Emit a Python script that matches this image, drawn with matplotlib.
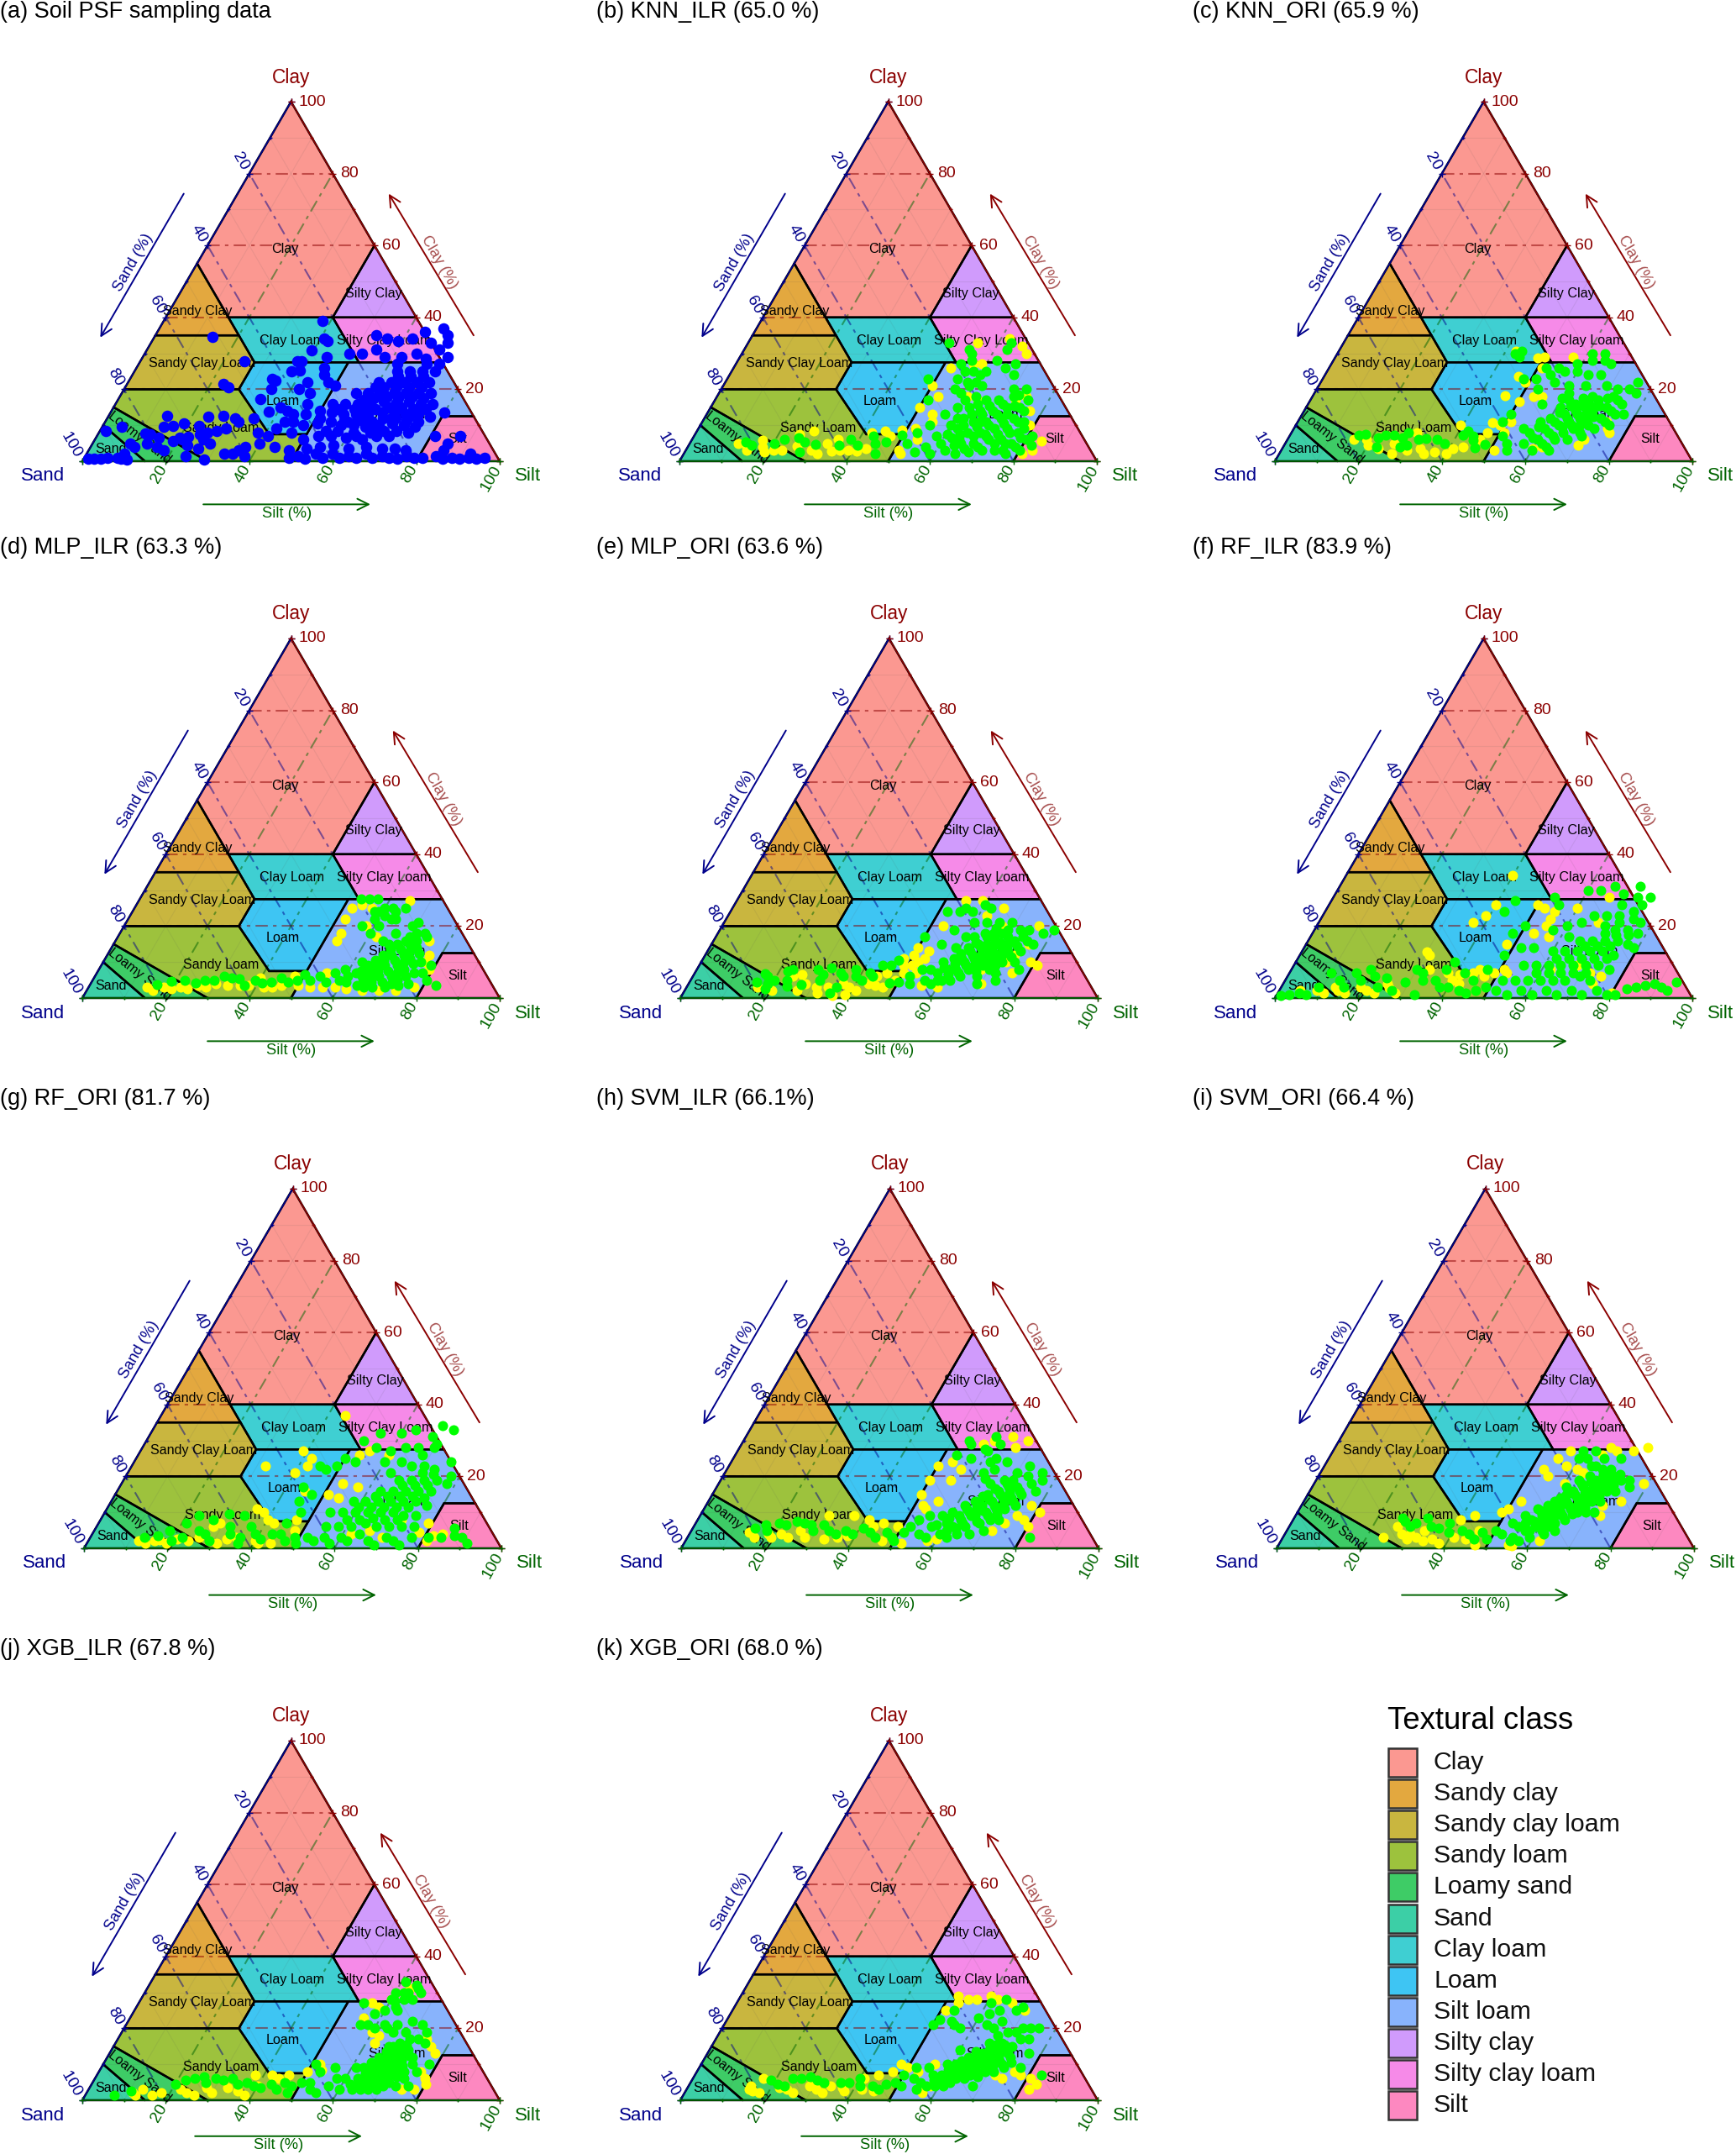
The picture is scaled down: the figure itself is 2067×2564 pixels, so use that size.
import numpy as np
import matplotlib
matplotlib.use("Agg")
import matplotlib.pyplot as plt
from matplotlib.patches import Polygon, Rectangle

plt.rcParams['font.family'] = ['Liberation Sans', 'DejaVu Sans']

# USDA class polygons as (silt, clay)
class_names = ['Clay', 'Sandy clay', 'Sandy clay loam', 'Sandy loam', 'Loamy sand', 'Sand',
               'Clay loam', 'Loam', 'Silt loam', 'Silty clay', 'Silty clay loam', 'Silt']
class_colors = ['#FB9891', '#E3A83F', '#C9B63F', '#9DC23D', '#3ECC66', '#3CCFA6',
                '#3FCFD2', '#3EC5F3', '#88B3FC', '#D09BFC', '#F68AE8', '#FD88C0']
poly_clay = [(0, 55), (15, 40), (40, 40), (40, 60), (0, 100)]
poly_sandy_clay = [(0, 35), (20, 35), (15, 40), (0, 55)]
poly_sandy_clay_loam = [(0, 20), (27.5, 20), (27.5, 27.5), (20, 35), (0, 35)]
poly_sandy_loam = [(0, 15), (0, 20), (27.5, 20), (41, 7.5), (50, 7.5), (50, 0), (30, 0)]
poly_loamy_sand = [(0, 10), (0, 15), (30, 0), (15, 0)]
poly_sand = [(0, 0), (0, 10), (15, 0)]
poly_clay_loam = [(15, 40), (40, 40), (52.5, 27.5), (27.5, 27.5), (20, 35)]
poly_loam = [(27.5, 20), (27.5, 27.5), (50, 27.5), (50, 7.5), (41, 7.5)]
poly_silt_loam = [(50, 0), (50, 27.5), (72.5, 27.5), (87.5, 12.5), (80, 12.5), (80, 0)]
poly_silty_clay = [(40, 40), (60, 40), (40, 60)]
poly_silty_clay_loam = [(40, 40), (60, 40), (72.5, 27.5), (52.5, 27.5)]
poly_silt = [(80, 0), (80, 12.5), (87.5, 12.5), (100, 0)]
class_polys = [poly_clay, poly_sandy_clay, poly_sandy_clay_loam, poly_sandy_loam, poly_loamy_sand, poly_sand,
               poly_clay_loam, poly_loam, poly_silt_loam, poly_silty_clay, poly_silty_clay_loam, poly_silt]

# label text, silt, clay
class_labels = [('Clay', 19, 59, 0), ('Silty Clay', 46.6, 46.5, 0), ('Sandy Clay', 6.9, 41.6, 0),
                ('Clay Loam', 33.5, 33.5, 0), ('Silty Clay Loam', 55.6, 33.5, 0), ('Sandy Clay Loam', 15, 27.3, 0),
                ('Loam', 39.6, 16.8, 0), ('Silt Loam', 68.9, 13, 0), ('Sandy Loam', 28.6, 9.2, 0),
                ('Loamy Sand', 10.5, 6.6, -38), ('Sand', 5.1, 3.4, 0), ('Silt', 86.7, 6.2, 0)]

panel_titles = ['(a) Soil PSF sampling data', '(b) KNN_ILR (65.0 %)', '(c) KNN_ORI (65.9 %)',
                '(d) MLP_ILR (63.3 %)', '(e) MLP_ORI (63.6 %)', '(f) RF_ILR (83.9 %)',
                '(g) RF_ORI (81.7 %)', '(h) SVM_ILR (66.1%)', '(i) SVM_ORI (66.4 %)',
                '(j) XGB_ILR (67.8 %)', '(k) XGB_ORI (68.0 %)']

sampling_blue = [(1,.7),(2.5,.6),(4,.8),(5.5,1),(8,1),(9,2),(9,.7),(10.5,.5),(1.5,8.3),(4.6,9.6),(9,5),(10.5,4),(11.3,7.6),(12.5,7.5),(13,5),(15,6.5),(16,4),(18,3),(19,5.5),(21,6),(23,4.5),(14,12.7),(14.7,9.6),(16.8,9.8),(19,10.5),(20,6.5),(22,6.8),(23,9.8),(24,12.4),(27.4,12.7),(30.6,12),(35,12),(32,11),(24.5,7.5),(26,8),(28,8.5),(30,9),(26,6),(28,5),(26,3.5),(24,1.5),(29,.5),(33,2),(37,4),(35,2),(36,3),(38,1.5),
(14,34.5),(25,27.8),(23,21.5),(24.7,20.6),(34,23),(35,22.5),(35.3,20),(34,17.2),(37.8,13.9),(37.5,25),(39.5,25.3),(37.6,27.8),(38.6,27.8),(38,39),(41,34),(42,33.5),(39.6,30.8),(44,29),(45,26),(46,24),(43,22),(48,22),(50,21),(42,20),(45,19),(40,15),(42,14),(44,13),(46,16),(38,8),(41,7),(40,5),(44,4),(42,9),(46,8),(43,11),
(49,1),(51,1.5),(53,.8),(55,2),(57,1),(59,2),(61,1),(63,1.5),(65,1),(67,2),(69,1),(71,1.5),(73,1),(75,.8),(77,1.5),(79,1),(81,1),(48,3),(52,3.5),(55,4),(58,4.5),(62,3.5),(66,4),(70,3.5),(73,3.5),(76,3),(50,6),(53,7),(56,7),(60,6.5),(64,6),(67,7),(45,11),(48,10),(51,10.5),(54,11),(57,10),(60,10),(63,9.5),(66,10),(69,10.5),(72,10),(75,9.5),(47,13),(50,14),(53,13.5),(56,13),(59,13),(62,13),(65,13.5),(68,13.5),(71,13),(74,13),(77,12.5),(80,13.5),(52,16),(55,16),(58,16),(61,16),(64,16.5),(67,16),(70,16.5),(73,16),(76,16),(56,19),(59,19),(62,19),(65,19.5),(68,19),(71,19),(74,19),(60,22),(63,22),(66,22),(69,22),(72,22),(63,25),(66,25),(69,25),(72,25),(62,27),(69,27),(72,27),(66,9),(62,7),(70,7),(58,11),(61,11.5),(64,11),(68,12),(72,11.5),(75,11),(60,14.5),(63,14.5),(66,15),(69,15),(72,14.5),(75,14.5),
(49,30),(52,30),(55,31),(58,29),(62,29),(65,30),(68,28.5),(70,31),(53,35),(56,34),(59,33.5),(62,34),(64,36),(67,33),(70,35),(68,37),(73,29),(71,33),(85,3),(84,1.5),(86,.8),(88,1),(90,.7),(92,1),(94,.8),(96,.9),(85,5),(92,2),(81,7),(87,7),
(51,12),(54,14.5),(57,11.5),(60,12),(63,11.5),(66,12),(69,12),(72,12.5),(58,14.5),(61,17.5),(64,18),(67,17.5),(70,18),(73,17.5),(59,17),(62,20.5),(65,21),(68,20.5),(71,20.5),(64,23.5),(67,23.5),(70,23.5),(65,8),(68,8.5),(71,8.5),(61,8),(57,8.5),(54,8.5),(74,8),(60,20.5)]

knn_ilr_green = [(13.3,5.3),(15,4.5),(20.3,4.9),(22.2,6.1),(25.4,6.5),(27.3,5.3),(27.4,2.6),(30.2,4.7),(36,4.5),(38,6.1),(40.4,4.5),(43,6.9),(44.5,4.9),(45.7,2.2),(46.8,5.3),(49.7,7.3),
(52,5),(53,8),(55,2.5),(55,10),(57,4),(59,2),(58,7),(60,10),(57,13),(59,15),(62,3),(62,6.5),(62,9),(62,12),(62,15),(62,18),(65,2),(65,5),(65,8),(65,11),(65,14),(65,17),(68,2.5),(68,5),(68,8),(68,11),(68,14),(68,17),(71,3),(71,6),(71,9),(71,12),(71,15),(71,18),(74,3),(74,6),(74,9),(74,12),(74,15),(77,2),(77,5),(77,8),(77,11),(80,3),(80,6),(64,6),(67,7),(63,10),(66,13),(69,10),(72,13),(70,7),(73,5),(75,8),(60,5),(78,9),(70,20),(72,18.5),(75,17),(73,20),(76,3),(82,4.5),(81,7),
(56,20),(58,22),(60,24),(58,25),(56,25),(54,27),(62,21),(61,25),(56,28),(54,31),(48,33),(55,30),(62,28),(63,31),(63,33),(67,27),(65,26),(68,24),(58,19),(51,17),(48,23),(55,23),
(60.5,7.5),(60.5,12),(63.5,4.5),(63.5,7.5),(63.5,13),(63.5,16),(66.5,3.5),(66.5,9.5),(66.5,11),(66.5,15.5),(69.5,4),(69.5,7.5),(69.5,13),(69.5,16),(72.5,7.5),(72.5,10.5),(72.5,15.5),(75.5,5),(75.5,11),(75.5,14),(78.5,4),(78.5,6.5),(60,17),(59,21),(60,22)]
knn_ilr_yellow = [(11.5,5),(14,4),(14.5,3),(17,5.8),(18,4),(19,2.5),(21,3),(23,3),(25,7.5),(26,4.2),(28,8.5),(30,3),(32,2),(33,5),(35,2.8),(35,6),(37,3),(39,3),(41,2.8),(42,8),(43,3.5),(45,8.5),(47,7),(49,8.7),(51,3),(52,2),(54,13),(55,11),(52,9),(54,6),(50,15),(53,18),(57,27),(55,33),(52,26),(59,27),(60,18),(63,17),(66,32),(68,30),(72,17),(74,18),(77,14),(79,10),(81,2),(83,3),(84,5.5),(50,21),(62,34)]

knn_ori_green = [(16.5,7.3),(18,7.5),(21.4,6.5),(23,7.3),(25,7.3),(27.3,6.5),(28,8),(28,4),(29.3,4.5),(22.3,3.9),(31.4,6),(33,6.3),(35.9,6),(38.2,4.8),(41.4,7.3),(42,8.4),(44,6.9),(44.5,5.8),(46,3.7),(48,4.7),
(51,7),(53,5),(55,9),(54,3),(57,5),(57,8),(58,11),(60,3),(60,6),(60,9),(60,12),(63,4),(63,7),(63,10),(63,13),(61,15),(65,8),(65,11),(65,14),(67,6),(67,9),(67,12),(67,15),(69,8),(69,11),(69,14),(69,17),(66,17),(72,9),(72,12),(72,15),(72,18),(75,10),(75,13),(75,16),(62,17),(64,16),(77,13),(64,3),(70,7),(60,17.5),(61,19),(56,16),(72,20),(75,20),(76,22),(77,19),(69,21),(49,11),(50,13),
(51,23),(54,24),(56,22),(53,20),(57,25),(60,25),(63,24),(65,28),(62,28),(59,27),(55,26),(66,24),(60,21),(64,21),(48,23),(61,30),(64,30),(52,26),(42.5,30),(44,30.5),(44,29),(67,27),
(58.5,6.5),(58.5,9.5),(61.5,5),(61.5,8),(61.5,11),(61.5,13.5),(64,6),(64,9.5),(64,12),(66,10),(66,13),(66,15.5),(68,10),(68,13),(68,15.5),(70,10),(70,12.5),(70,15.5),(71,17.5),(73.5,11),(73.5,14),(73.5,17),(63,15.5),(65,17.5),(67,18)]
knn_ori_yellow = [(16,6),(19,6),(20,4.5),(23,3.5),(26,5),(27,2),(30,3),(30,8),(33,3.5),(34.6,2.2),(37,2.5),(40,2.2),(39.4,10),(41,3.5),(43,4),(46,6),(47,8),(46.7,10.8),(49,10),(51,11),(51,3),(50.3,16.6),(46,18.2),(46.5,23.6),(42.4,30.5),(48.7,28.7),(50,29),(51,26),(49,22),(53,18),(55,18),(75,9.2),(76,8),(74,11),(70.3,4.5),(60,3.5),(51,8),(57,29),(71,6),(62,4)]

mlp_ilr_green = [(16,3.8),(19,4.7),(22,5),(25,4.2),(27,4.8),(29,5),(31,6),(33,5.5),(35,5.3),(37,3.5),(39,4.8),(41,4.3),(43,4.5),(45,5.5),(47,4.5),(49,5),(50,6.5),(52,5),(54,6),(56,4.5),(57,7),(59,5),(59,8),(61,4.5),(62,7),(62,10),(64,3.5),(64,6),(64,9),(66,3),(66,6),(66,9),(66,12),(68,3),(68,6),(68,9),(68,12),(68,15),(71,3),(71,6),(71,9),(71,12),(71,15),(73,5),(73,8),(73,11),(73,14),(76,4),(76,7),(76,10),(74,17),(70,17),(66,15),(64,16),(66,18),(69,20),(71,18),(70,21),(73,18),(63,22),(61,20),(59,22),(58,24),(57,20),(60,18),(62,25),(64,22),(65,25),(60,25),(57,27.5),(55,27.5),(53,27.5),(74,3.5),(78,7),(80,5),(83,3.5),(79,9),
(60.5,6),(63,7.5),(65,4.5),(65,7.5),(65,10.5),(67,4.5),(67,7.5),(67,10.5),(67,13.5),(69.5,4.5),(69.5,7.5),(69.5,10.5),(69.5,13.5),(69.5,16),(72,4),(72,7),(72,10),(72,13),(72,16),(74.5,6),(74.5,9.5),(74.5,12.5),(61,23),(63,24),(59,24)]
mlp_ilr_yellow = [(14,3),(16,2),(18,3),(20,2.5),(22,3),(24,2.5),(26,3.5),(28,3),(30,4),(33,3.5),(36,3.5),(38,3.5),(40,5.5),(42,3),(44,3),(46,3.5),(48,6),(50,3.5),(53,3),(56,3),(59,3),(62,2.5),(55,7),(53,18),(52,22),(53,16),(58,20),(62,17),(57,25),(54,26),(52,25),(66,2),(70,2),(74,2),(78,3),(77,10),(75,16),(79,8),(77,12),(65,27)]

mlp_ori_green = [(16,4.5),(17,6.8),(18,6),(19,4),(20,5),(19,2.5),(22,7.5),(23,8),(23,5),(24,3.2),(27,3.8),(29,8),(31,6.5),(32,8.5),(31,5),(35,7),(36,6),(36,3),(35,1.5),(38,8),(39,6),(41,5),(42,7),(43,6),(44,9),(46,9),(47,10.5),(48,4.2),(50,4.5),(52,6),(53,4),(54,8),(56,5),(56,8),(58,4),(58,7),(58,10),(60,5),(60,8),(60,11),(62,5),(62,8),(62,11),(62,14),(59,14),(64,6),(64,9),(64,12),(64,15),(66,9),(66,12),(66,15),(66,18),(68,6),(68,9),(68,12),(68,15),(68,18),(70,8),(70,11),(70,14),(70,17),(72,7),(72,10),(72,13),(72,16),(75,10),(75,13),(75,16),(78,18),(77,15),(80,19),(64,18),(62,17),(60,17),(60,21),(63,21),(66,21),(69,21),(56,25),(55,24),(58,24),(60,26),(62,25),(52,24),(72,19),(74,19),(56,19),(50,17),(55,15),(77,8),(73,5),(69,4),(59,5),
(59,8.5),(61,6.5),(61,9.5),(61,12.5),(63,7),(63,10),(63,13),(63,15.5),(65,8),(65,11),(65,14),(65,17),(67,7.5),(67,10.5),(67,13.5),(67,16.5),(69,9.5),(69,12.5),(69,15.5),(71,9),(71,12),(71,15),(73.5,11.5),(73.5,14.5),(73.5,17),(66,19.5),(69,19)]
mlp_ori_yellow = [(17,3),(21,2),(24,6),(26,6.5),(27,2),(28,4),(31,3),(32,1.5),(34,3),(37,4),(36,.8),(39,1),(39,3),(41,2),(43,4),(44,6),(45,3.5),(47,3),(46,7),(49,9),(50,7),(51,9),(52,10),(53,11),(53,13),(49,5),(48,11),(50,12),(53,7),(56,3.5),(60,3),(53,20),(62,23),(65,25),(67,20),(76,20),(76,15),(74,12),(76,7),(73,10),(79,10),(81,9),(70,4),(68,8),(55,27),(59,27),(50,14)]

rf_ilr_green = [(1,.8),(3,1),(5,1.5),(7,1),(9,3),(10,7),(13,5),(15,3),(16,7),(18,5),(19,8),(21,6),(23,3),(24,5.5),(27,2),(29,4.5),(30,8),(32,7),(33,5),(33,1),(36,5),(37,8),(38,3),(38,10),(40,3),(42,7),(43,2),(45,5),(45,1.5),(47,2),(47,8),(49,3),(49,12),(48,18),(43,24),(44,27),(52,2),(55,1),(58,2),(61,1),(64,2),(67,1),(70,2),(73,1),(76,2),(79,1),(81,1),(83,2.5),(85,3),(87,3.5),(89,4),(91,3),(93,2),(94,4.5),
(52,5),(55,5),(58,5),(61,5),(64,5),(67,5),(70,6),(73,5),(55,9),(58,9),(61,9),(64,9),(67,9),(70,9),(73,9),(76,8),(60,13),(63,13),(66,13),(69,13),(72,13),(75,12),(62,17),(65,16),(68,16),(71,16),(74,16),(77,15),(69,20),(72,19),(75,19),(77,21),(63,21),(60,20),(65,23),(68,23),(71,23),(74,24),(70,26),(73,28),(75,26),(53,28),(55,26),(60,30),(63,30),(66,31),(69,29),(72,31),(76,28),(79,14),(78,18),(50,20),(52,14),(55,14),(57,19),
(59,7),(62,7),(65,7),(68,7),(71,7),(62,11),(65,11),(68,11),(71,11),(74,11),(67,14.5),(70,14.5),(73,14.5),(70,18),(73,17.5),(76,17.5),(72,21),(75,22)]
rf_ilr_yellow = [(5,2),(9,2),(11,1.5),(13,3),(14,2),(16,1.5),(19,3),(21,2),(23,1.3),(25,4),(26,2.8),(28,1.5),(30,12.8),(31,12),(33,8),(38,7),(40,5),(41,6.5),(42,4),(44,7),(45,8),(47,6),(49,7),(51,8),(52,7),(40,34),(40,26),(39,23),(37,21),(48,15),(50,26),(55,24),(55,22),(57,17),(53,18),(55,20),(60,25),(66,28),(68,9),(72,7),(74,4),(80,1.5),(52,25),(67,21),(75,6),(62,8)]

rf_ori_green = [(13,3),(16,3.5),(18,5),(20,2),(21,7),(23,9),(22,3),(25,5),(27,8),(27,4),(29,2),(30,9.5),(32,6),(33,4),(34,9),(36,3),(36,1.5),(37,6),(39,4),(41,2.5),(43,4),(45,4),(45,7),(47,2),(47,10),(45,13),(47,15),(49,3),(50,1.5),(52,3),(54,2),(56,3),(58,1.5),(60,3),(62,2),(64,4),(67,2),(69,1),(71,3),(73,2),(75,1),(77,3),(55,6),(58,6),(61,6),(64,7),(67,6),(70,6),(73,6),(76,6),(54,10),(57,10),(60,10),(63,10),(66,10),(69,10),(72,9),(75,9),(58,13),(61,13),(64,13),(67,13),(70,13),(73,13),(76,12),(63,16),(66,16),(69,16),(72,16),(75,16),(66,19),(69,19),(72,19),(75,19),(78,20),(78,18),(63,21),(60,24),(64,24),(67,23),(70,23),(73,22),(60,27),(63,28),(66,28),(68,26),(56,28),(53,24),(50,25),(49,23),(45,23),(47,22),(44,17),(52,30),(55,32),(60,32),(63,33),(70,29),(72,33),(69,34),(70,28),(68,31),(76,24),(81,3),(84,3),(87,3.5),(86,5.5),(89,3),(91,1.5),
(59,8),(62,8),(65,8.5),(68,8),(71,8),(60,11.5),(63,11.5),(66,11.5),(69,11.5),(72,11.5),(62.5,14.5),(65.5,14.5),(68.5,14.5),(71.5,14.5),(74.5,14),(67.5,17.5),(70.5,17.5),(73.5,17.5),(70.5,21),(73.5,20.5)]
rf_ori_yellow = [(12,2),(14,1.5),(16,2),(17,2.3),(19,1.5),(21,2.5),(24,2),(26,3),(28,6),(29,7),(31,1.5),(33,2.5),(35,3),(36,11),(38,10),(40,2),(40,8),(41,1.5),(42,7),(44,1.5),(47,8),(48,5),(40,21),(42,23),(39,27),(42,25),(53,26),(55,27),(45,16),(53,18),(51,15),(54,14),(57,17),(62,4),(66,5),(70,3),(72,8),(78,4.5),(79,7),(81,2),(82,3.5),(84,4),(32,23),(44,37),(60,26)]

svm_ilr_green = [(15,5.5),(17,6.5),(18,5),(20,7),(22,6.5),(24,7.5),(26,7),(28,6.5),(29,5),(31,6.5),(33,5),(35,4),(37,5),(39,4),(41,5.5),(43,4.5),(45,3),(47,4.5),(49,3),(50,2),(51,4.5),(52,6),(53,8),(55,4),(55,9),(57,6),(58,9),(57,3),(60,4),(60,7),(60,10),(62,3),(62,6),(62,9),(62,12),(64,4),(64,7),(64,10),(64,13),(66,9),(66,12),(66,15),(68,7),(68,10),(68,13),(68,16),(70,5),(70,8),(70,11),(70,14),(70,17),(72,8),(72,11),(72,14),(72,17),(74,12),(74,15),(67,4),(75,18),(77,16),(77,19),(73,20),(76,21),(65,18),(68,19),(70,21),(72,23),(62,21),(64,22),(66,24),(63,25),(60,27),(62,29),(59,27.5),(55,29),(57,25),(53,26),(54,30),(60,31),(82,3),
(58,6.5),(60,8.5),(61,5),(63,5.5),(63,8),(63,11),(65,6),(65,9),(65,11.5),(65,14.5),(67,7.5),(67,10.5),(67,13.5),(67,16.5),(69,9),(69,12),(69,15),(69,18),(71,9.5),(71,12.5),(71,15.5),(73,13),(73,16),(70,19),(63,19.5),(62,24)]
svm_ilr_yellow = [(14,4.5),(16,3),(19,4),(20,3),(22,4),(24,3),(26,5),(28,3),(31,9),(33,2.5),(36,3),(38,3.5),(37,9),(41,8),(43,6),(45,7),(47,2),(49,6),(52,1.5),(53,11),(52,12),(50,15),(50,19),(55,13),(56,22),(53,24),(55,19),(50,23),(58,29),(60,30),(64,31),(68,30),(66,28),(72,5),(74,7),(76,9),(78,8),(80,6),(81,10),(78,12),(58,2),(60,2.5)]

svm_ori_green = [(26,8.5),(27,7.5),(29,6),(30,7),(32,8.5),(34,6),(36,5.5),(38,7),(39,4.5),(42,5),(44,4),(46,2.5),(47,4.5),(49,2.5),(50,5),(52,4),(53,7),(55,3),(55,6),(55,9),(57,2),(57,5),(57,8),(57,11),(59,3),(59,6),(59,9),(59,12),(61,5),(61,8),(61,11),(61,14),(63,7),(63,10),(63,13),(63,16),(65,8),(65,11),(65,14),(65,17),(67,10),(67,13),(67,16),(67,19),(69,10),(69,13),(69,16),(69,19),(71,13),(71,16),(71,19),(73,16),(73,19),(75,19),(61,17),(63,19),(65,20),(67,22),(69,22),(64,23),(66,25),(62,25),(60,27),(63,27),(60,25),(70,25),(58,5),(62,4),(64,5),(76,17),(55,2),(71,10),
(56,7),(58,7.5),(58,10.5),(60,7),(60,10),(60,13),(62,6),(62,9),(62,12),(62,15),(64,9),(64,12),(64,15),(64,18),(66,9.5),(66,12.5),(66,15.5),(66,18.5),(68,11.5),(68,14.5),(68,17.5),(68,20.5),(70,14.5),(70,17.5),(70,20.5),(72,17.5),(72,20.5),(65,23)]
svm_ori_yellow = [(24,3),(26,6),(28,4),(30,2.5),(30,4),(32,3),(34,2),(33,5),(36,2.5),(38,1.5),(40,8),(41,3),(43,9),(44,2.5),(46,5),(47,1),(50,11),(49,10),(52,13),(55,1),(56,.8),(57,27),(55,25),(58,23),(61,22),(60,18),(63,21),(66,28),(72,27),(75,28),(72,12),(73,9),(79,18),(76,13),(62,2),(55,20),(53,22),(65,26),(68,27)]

xgb_ilr_green = [(7,1.3),(10.5,2.5),(20,4.5),(22,5.5),(24,6),(26,6.5),(27,5),(29,6),(31,5.5),(33,6),(35,4.5),(37,5),(39,4),(41,3.5),(43,4.5),(45,3),(46,5),(48,2),(50,5),(48,4),(52,5),(53,3),(53,8),(51,10),(55,2),(56,9),(57,4),(58,6),(60,3),(60,6),(61,9),(63,3),(63,6),(63,9),(65,3),(65,6),(65,9),(65,12),(67,3),(67,6),(67,9),(67,12),(67,15),(69,3),(69,6),(69,9),(69,12),(69,15),(71,5),(71,8),(71,11),(71,14),(73,4),(73,8),(73,12),(66,15),(68,16),(70,17),(76,8),(78,10),(74,16),(72,17),(68,19),(65,19),(63,20),(60,20),(62,21),(65,21),(68,22),(73,19),(71,21),(58,21),(58,24),(60,25),(62,26),(63,28),(65,28),(62,30),(65,31),(60,30),(61,33),(64,32),(66,30),(54,27),(76,4),(56,21),
(62,4.5),(64,4.5),(64,7.5),(64,10.5),(66,4.5),(66,7.5),(66,10.5),(66,13.5),(68,4.5),(68,7.5),(68,10.5),(68,13.5),(70,4),(70,7),(70,10),(70,13),(70,15.5),(72,6.5),(72,9.5),(72,12.5),(74,6),(74,10),(61,27.5),(63,25),(60,28),(63,30)]
xgb_ilr_yellow = [(11,2),(13,3),(12,1.5),(16,1.5),(18,2),(22,3),(24,2),(26,1.5),(28,3.5),(30,2),(33,3.5),(36,2.5),(38,1.5),(38,7),(40,4),(42,7),(44,6),(46,7),(50,8),(53,8.5),(52,10),(56,27),(58,26),(60,28),(56,23),(60,19),(62,16),(62,18),(77,8),(79,6),(80,4.5),(78,3),(75,3),(74,17),(76,15),(63,31),(78,13)]

xgb_ori_green = [(19,5.5),(21,4.5),(23,4),(24,6),(26,6),(28,6.5),(30,5.5),(32,5),(36,5),(38,5),(40,6),(41,4),(44,4),(46,3),(47,4.5),(49,5),(51,4),(50,7),(52,9),(53,6),(55,3),(55,5),(55,9),(57,4),(57,7),(59,4),(59,7),(59,10),(61,4),(61,7),(61,10),(63,6),(63,9),(63,12),(65,6),(65,9),(65,12),(67,8),(67,11),(67,14),(69,8),(69,11),(69,14),(71,8),(71,11),(71,14),(73,9),(73,12),(75,17),(73,17),(71,19),(69,19),(74,20),(72,20),(76,20),(69,16),(72,15),(66,16),(68,4),(77,13),(83,7),(77,9),(53,25),(51,22.5),(54,22),(50,21),(55,21),(57,20),(60,23),(62,24),(64,25),(63,21),(65,20),(66,22),(68,25),(69,26),(67,18),(64,28),(61,27),(60,14),
(58,5.5),(60,5.5),(60,8.5),(62,5),(62,8),(62,11),(64,7.5),(64,10.5),(64,13.5),(66,7),(66,10),(66,13),(68,6.5),(68,9.5),(68,12.5),(68,15.5),(70,9.5),(70,12.5),(70,15.5),(72,10),(72,13),(74,10.5)]
xgb_ori_yellow = [(17,6),(15,4),(15,3),(16,2.5),(18,2),(22,3.5),(24,3),(26,2),(29,4),(31,3),(33,2),(34,4),(37,3.5),(38,2.5),(41,6),(42,3),(44,7),(45,2.5),(47,8),(48,10),(50,9),(53,8),(56,10),(52,29),(51,25),(53,27),(55,28),(57,28),(60,29),(62,28),(66,27),(70,25),(72,7),(74,6),(76,8),(78,7),(83,4.5),(82,3),(81,6),(58,4),(57,2)]

panel_green = [None, knn_ilr_green, knn_ori_green, mlp_ilr_green, mlp_ori_green, rf_ilr_green, rf_ori_green,
               svm_ilr_green, svm_ori_green, xgb_ilr_green, xgb_ori_green]
panel_yellow = [None, knn_ilr_yellow, knn_ori_yellow, mlp_ilr_yellow, mlp_ori_yellow, rf_ilr_yellow, rf_ori_yellow,
                svm_ilr_yellow, svm_ori_yellow, xgb_ilr_yellow, xgb_ori_yellow]

panel_left = [98, 809, 1518, 98, 810, 1518, 100, 811, 1520, 98, 810]
panel_base = [549, 549, 549, 1188, 1188, 1188, 1843, 1843, 1843, 2500, 2500]
title_x = [0, 710, 1420, 0, 710, 1420, 0, 710, 1420, 0, 710]
title_y = [14, 14, 14, 652, 652, 652, 1308, 1308, 1308, 1963, 1963]
silt_drop = [-12, -12, -12, -12, -12, -12, -13, -13, -13, -10, -10]
arrow_shift = [0, 1, 1, 1, 1, 1, 1, 1, 1, -2, 0]

W, H = 2067, 2564
TW, TH = 497, 428  # triangle size in pixels
NAVY, RED, GREEN = '#00008B', '#8B0000', '#006400'


def tern(silt, clay):
    return silt + clay / 2.0, clay


def draw_panel(ax, i):
    ax.set_xlim(-30, 130)
    ax.set_ylim(-20, 115)
    ax.axis('off')
    tri = Polygon([tern(0, 0), tern(100, 0), tern(0, 100)], closed=True, transform=ax.transData,
                  fc='none', ec='none')
    ax.add_patch(tri)
    for pts, col in zip(class_polys, class_colors):
        ax.add_patch(Polygon([tern(*q) for q in pts], closed=True, fc=col, ec='none', zorder=1))

    # faint grid every 10, dash-dot every 20
    for v in range(10, 100, 10):
        strong = v % 20 == 0
        lines = [(tern(0, v), tern(100 - v, v), RED), (tern(100 - v, 0), tern(0, 100 - v), NAVY),
                 (tern(v, 0), tern(v, 100 - v), GREEN)]
        for a, b, c in lines:
            if strong:
                ax.plot([a[0], b[0]], [a[1], b[1]], color=c, lw=1.5, alpha=0.5,
                        ls=(0, (7, 3, 2, 3)), zorder=2)
            else:
                ax.plot([a[0], b[0]], [a[1], b[1]], color='#555555', lw=0.8, alpha=0.1, zorder=2)

    for pts in class_polys:
        ax.add_patch(Polygon([tern(*q) for q in pts], closed=True, fc='none', ec='black', lw=1.8,
                             joinstyle='miter', zorder=3))

    # triangle outline
    ax.plot(*zip(tern(0, 0), tern(0, 100)), color=NAVY, lw=1.2, zorder=3.5)
    ax.plot(*zip(tern(100, 0), tern(0, 100)), color=RED, lw=1.2, zorder=3.5)
    ax.plot(*zip(tern(0, 0), tern(100, 0)), color=GREEN, lw=1.2, zorder=3.5)

    for v in range(0, 101, 10):
        ms = 6 if v % 20 == 0 else 3
        ax.plot(*tern(0, v), marker='+', ms=ms, color=NAVY, mew=1, zorder=3.6)
        ax.plot(*tern(100 - v, v), marker='+', ms=ms, color=RED, mew=1, zorder=3.6)
        ax.plot(*tern(v, 0), marker='+', ms=ms, color=GREEN, mew=1, zorder=3.6)

    for v in [20, 40, 60, 80, 100]:
        ax.annotate(str(v), tern(100 - v, v), xytext=(9, 0), textcoords='offset pixels', color=RED,
                    fontsize=14, ha='left', va='center', zorder=6)
        ax.annotate(str(v), tern(0, 100 - v), xytext=(-5, 5), textcoords='offset pixels', color=NAVY,
                    fontsize=14, ha='right', va='center', rotation=-60, rotation_mode='anchor', zorder=6)
        ax.annotate(str(v), tern(v, 0), xytext=(-2, -6), textcoords='offset pixels', color=GREEN,
                    fontsize=14, ha='right', va='center', rotation=60, rotation_mode='anchor', zorder=6)

    ax.annotate('Clay', tern(0, 100), xytext=(0, 29), textcoords='offset pixels', color=RED, fontsize=16.4,
                ha='center', va='center')
    ax.annotate('Sand', tern(0, 0), xytext=(-47, -18), textcoords='offset pixels', color=NAVY, fontsize=16,
                ha='center', va='center')
    ax.annotate('Silt', tern(100, 0), xytext=(34, -18), textcoords='offset pixels', color=GREEN, fontsize=16,
                ha='center', va='center')

    # direction arrows
    s = arrow_shift[i]
    arrow = dict(arrowstyle='->', lw=1.4, mutation_scale=24, shrinkA=0, shrinkB=0)
    ax.annotate('', xy=(4.3 + s, 34.4), xytext=(24.3 + s, 74.4), arrowprops=dict(arrow, color=NAVY))
    ax.text(12.2 + s, 55.3, 'Sand (%)', color=NAVY, fontsize=13.2, rotation=60, ha='center', va='center')
    ax.annotate('', xy=(73.4 + s, 74.4), xytext=(93.75 + s, 35), arrowprops=dict(arrow, color=RED))
    ax.text(85.5 + s, 55.3, 'Clay (%)', color='#A85050', fontsize=13.2, rotation=-60, ha='center', va='center')
    d = silt_drop[i]
    ax.annotate('', xy=(69 + s, d), xytext=(29 + s, d), arrowprops=dict(arrow, color=GREEN))
    ax.text(49 + s, d - 2.5, 'Silt (%)', color=GREEN, fontsize=13.2, ha='center', va='center')

    for name, si, cl, rot in class_labels:
        x, y = tern(si, cl)
        t = ax.text(x, y, name, fontsize=11.6, color='black', ha='center', va='center', rotation=rot,
                    rotation_mode='anchor', zorder=4)
        t.set_clip_path(tri)

    if i == 0:
        b = np.array([tern(*q) for q in sampling_blue])
        ax.scatter(b[:, 0], b[:, 1], s=95, c='#0000FF', lw=0, zorder=5)
    else:
        y = np.array([tern(*q) for q in panel_yellow[i]])
        g = np.array([tern(*q) for q in panel_green[i]])
        ax.scatter(y[:, 0], y[:, 1], s=75, c='#FFFF00', lw=0, zorder=5)
        ax.scatter(g[:, 0], g[:, 1], s=75, c='#00FF00', lw=0, zorder=5.1)


fig = plt.figure(figsize=(W / 100, H / 100), dpi=100, facecolor='white')

for i, title in enumerate(panel_titles):
    left = panel_left[i] - 0.30 * TW
    bottom = panel_base[i] + 0.20 * TH
    ax = fig.add_axes([left / W, 1 - bottom / H, 1.6 * TW / W, 1.35 * TH / H])
    ax.patch.set_alpha(0)
    draw_panel(ax, i)
    fig.text(title_x[i] / W, 1 - title_y[i] / H, title, fontsize=19.5, ha='left', va='center')

# legend, axes in pixel units
lax = fig.add_axes([1640 / W, 1 - 2564 / H, 427 / W, 564 / H])
lax.set_xlim(1640, 2067)
lax.set_ylim(2564, 2000)
lax.axis('off')
lax.text(1652, 2048, 'Textural class', fontsize=26.3, ha='left', va='center')
for k, (name, col) in enumerate(zip(class_names, class_colors)):
    y0 = 2081 + 37.1 * k
    lax.add_patch(Rectangle((1653, y0), 34, 34, fc=col, ec='#333333', lw=1.8))
    lax.text(1707, y0 + 17, name, fontsize=21.8, ha='left', va='center', color='#111111')

fig.savefig('out.png', dpi=100)
